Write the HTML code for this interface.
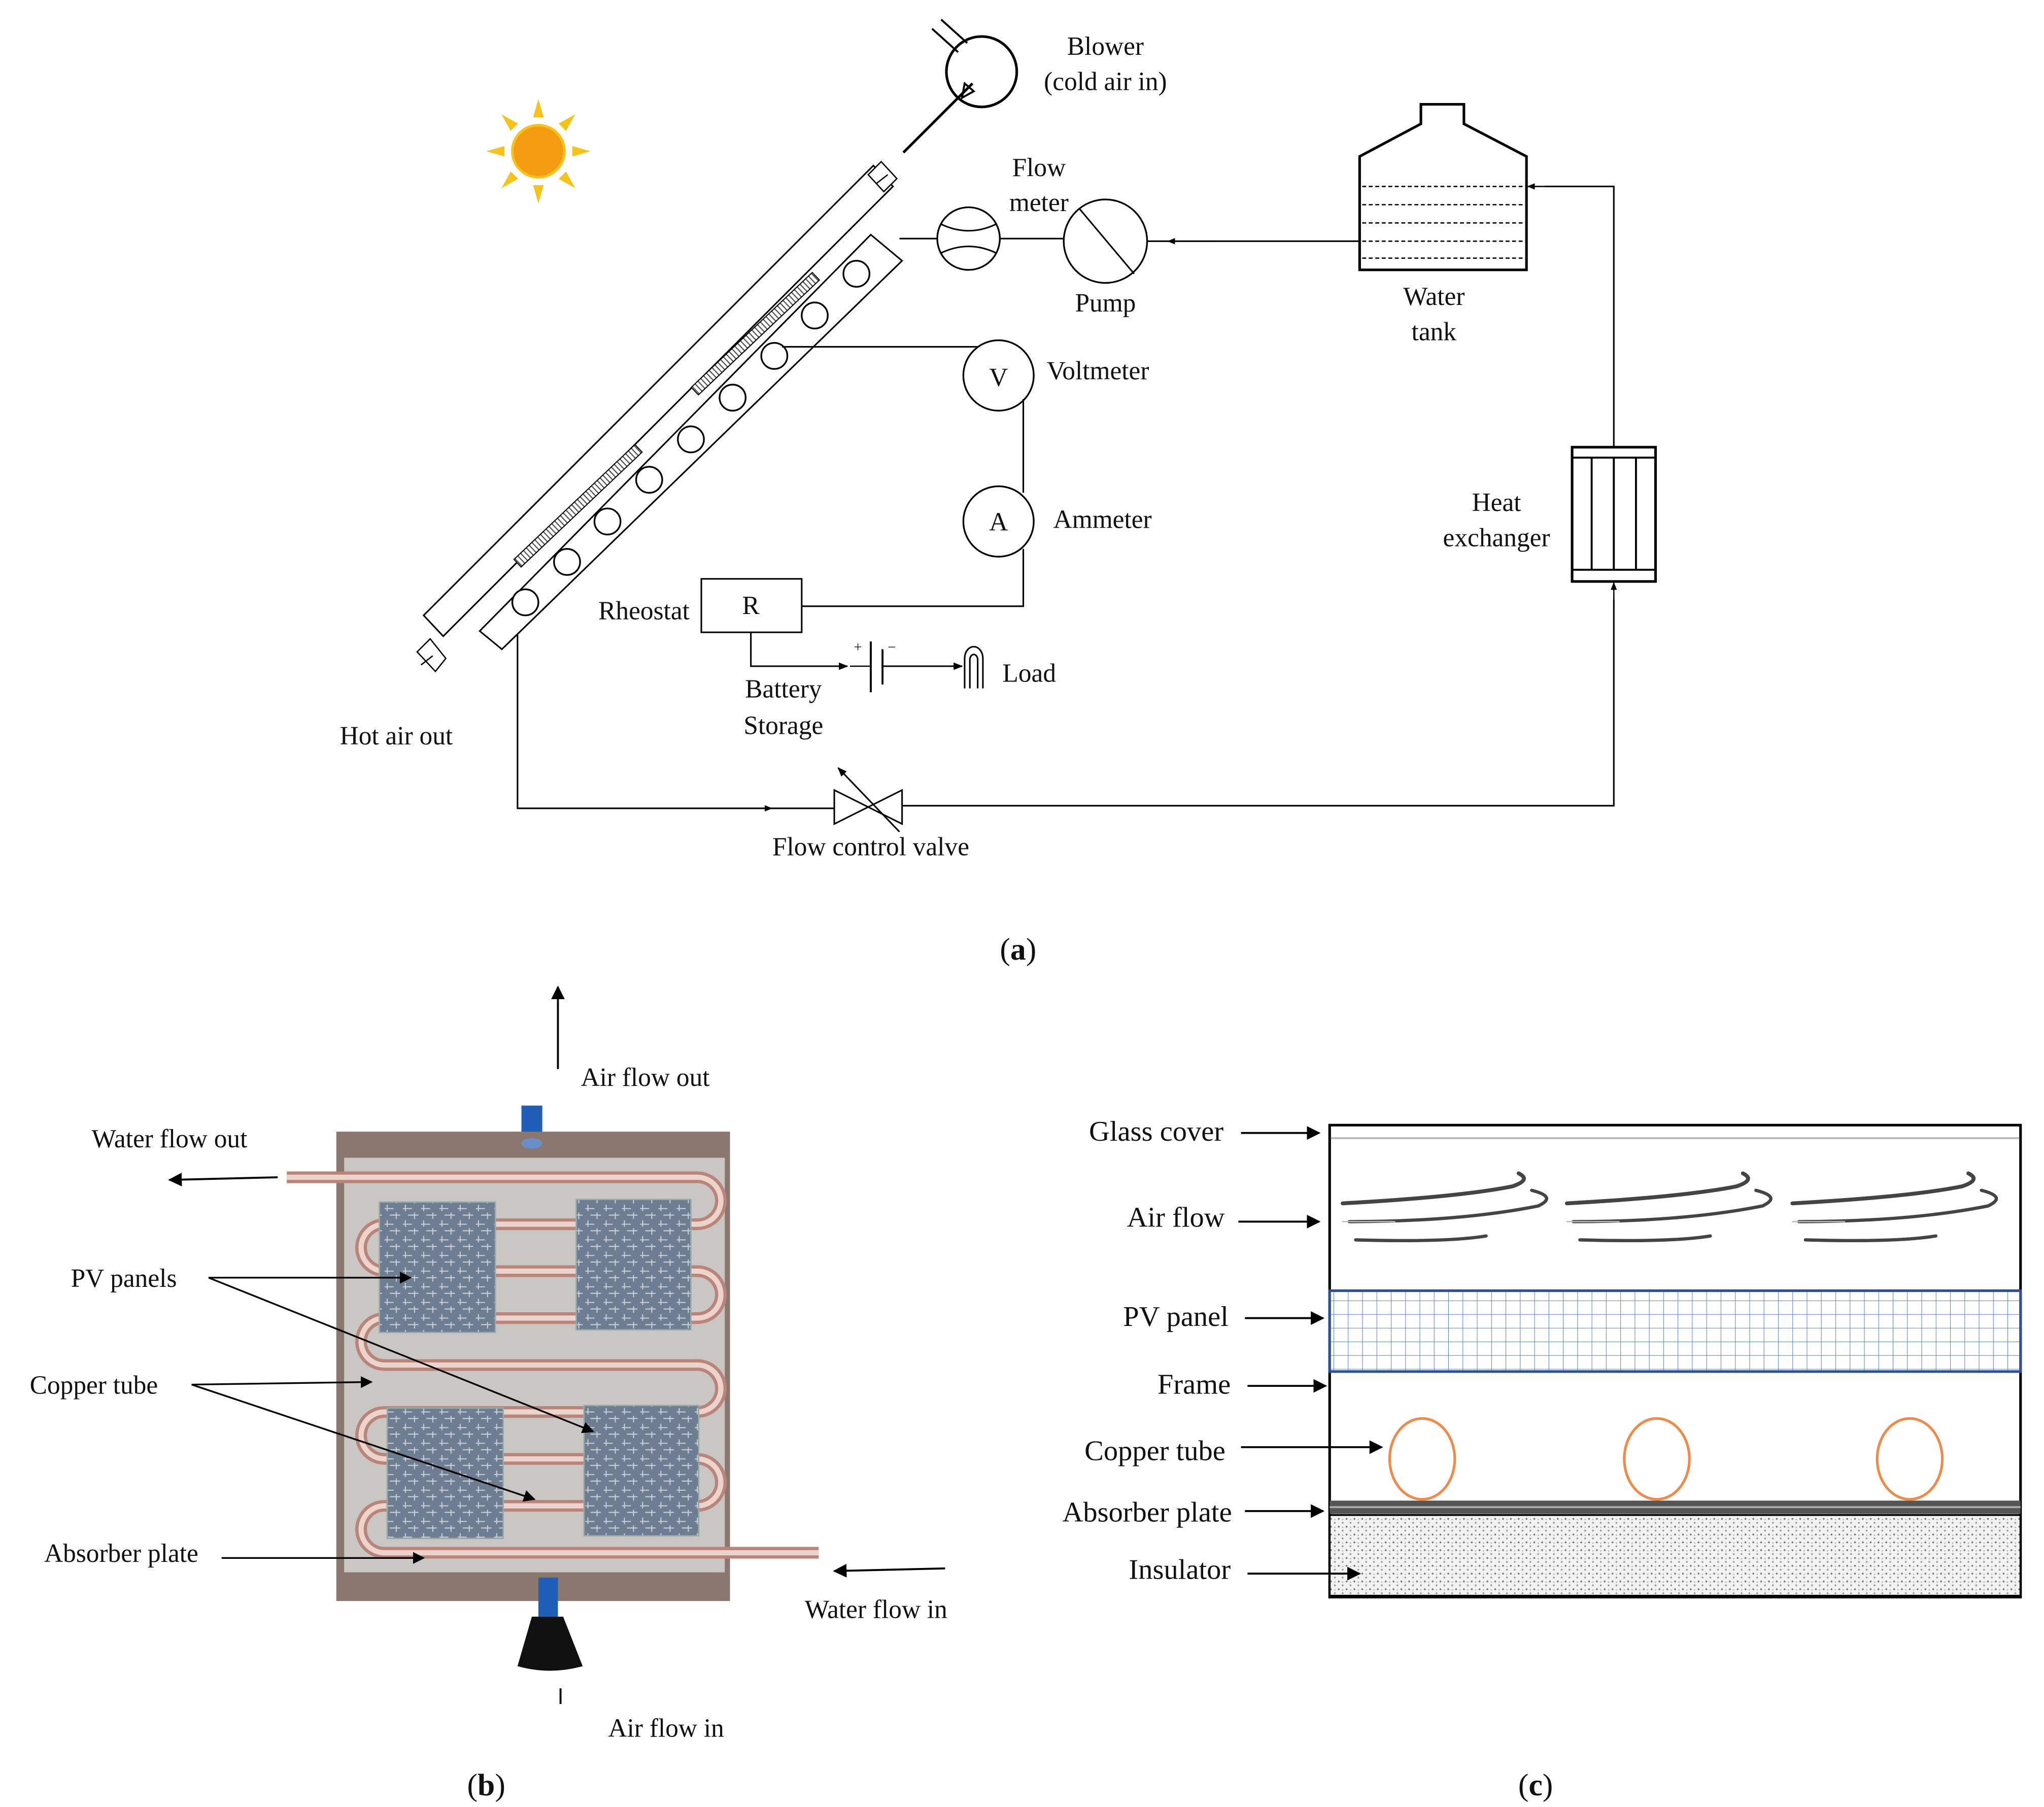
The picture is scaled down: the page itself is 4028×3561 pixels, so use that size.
<!DOCTYPE html>
<html><head><meta charset="utf-8">
<style>
html,body{margin:0;padding:0;background:#fff;}
svg{display:block;}
text{font-family:"Liberation Serif",serif;font-size:20px;fill:#111;}
.c{font-family:"Liberation Sans Narrow","Liberation Serif",serif;font-size:22px;}
</style></head><body>
<svg width="4028" height="3561" viewBox="0 0 1568 1386" preserveAspectRatio="none" xmlns="http://www.w3.org/2000/svg">
<defs>
<marker id="ar" viewBox="0 0 10 10" refX="9" refY="5" markerWidth="6" markerHeight="6" orient="auto"><path d="M0,1 L10,5 L0,9z" fill="#000"/></marker>
<marker id="ab" viewBox="0 0 10 10" refX="9" refY="5" markerWidth="7" markerHeight="7" orient="auto"><path d="M0,0 L10,5 L0,10z" fill="#000"/></marker>
<pattern id="grid" width="11" height="10.5" patternUnits="userSpaceOnUse"><rect width="11" height="10.5" fill="#fff"/><path d="M0,0 H11 M0,0 V10.5" stroke="#5b7fc8" stroke-width="0.8"/></pattern>
<pattern id="dots" width="6" height="6" patternUnits="userSpaceOnUse"><rect width="6" height="6" fill="#f2f2f2"/><circle cx="1" cy="1" r="0.7" fill="#777"/><circle cx="4" cy="4" r="0.7" fill="#999"/><circle cx="4" cy="1.5" r="0.5" fill="#aaa"/></pattern>
<pattern id="hatch" width="3" height="6" patternUnits="userSpaceOnUse"><rect width="3" height="6" fill="#fff"/><path d="M1,0 V6" stroke="#444" stroke-width="0.8"/></pattern>
<pattern id="pv" width="14" height="12" patternUnits="userSpaceOnUse"><rect width="14" height="12" fill="#6f7d92"/><path d="M1,3 H8 M5,8 H13 M3,0 V5 M10,6 V11" stroke="#c9d0dc" stroke-width="0.8"/></pattern>
</defs>

<g transform="translate(413,116)">
<g fill="#f7c31a">
<polygon points="-4,-26 4,-26 0,-40"/><polygon points="-4,26 4,26 0,40"/>
<polygon points="-26,-4 -26,4 -40,0"/><polygon points="26,-4 26,4 40,0"/>
<g transform="rotate(45)"><polygon points="-4,-26 4,-26 0,-40"/><polygon points="-4,26 4,26 0,40"/><polygon points="-26,-4 -26,4 -40,0"/><polygon points="26,-4 26,4 40,0"/></g>
</g>
<circle r="20" fill="#f39c12"/><circle r="20" fill="none" stroke="#f7c31a" stroke-width="2"/>
</g>
<circle cx="753" cy="55" r="27" fill="#fff" stroke="#000" stroke-width="2"/>
<line x1="715" y1="22" x2="735" y2="40" stroke="#000" stroke-width="1.5"/>
<line x1="722" y1="15" x2="742" y2="33" stroke="#000" stroke-width="1.5"/>
<line x1="746" y1="64" x2="693" y2="117" stroke="#000" stroke-width="2"/>
<path d="M738,75 L740,64 L747,70z" fill="none" stroke="#000" stroke-width="1.5"/>
<text x="848" y="42" text-anchor="middle">Blower</text>
<text x="848" y="69" text-anchor="middle">(cold air in)</text>

<polygon points="325,472 670,127 685,143 340,488" fill="#fff" stroke="#000" stroke-width="1.2"/>
<polygon points="320,500 330,490 342,505 334,515" fill="#fff" stroke="#000" stroke-width="1"/>
<polygon points="666,134 676,124 688,137 678,147" fill="#fff" stroke="#000" stroke-width="1"/>
<line x1="323" y1="510" x2="332" y2="503" stroke="#000"/>
<line x1="672" y1="141" x2="681" y2="134" stroke="#000"/>
<polygon points="368,484 668,180 692,200 385,498" fill="#fff" stroke="#000" stroke-width="1.2"/>
<g transform="translate(397,432) rotate(-43.5)"><rect x="0" y="-4" width="128" height="8" fill="url(#hatch)" stroke="#000" stroke-width="0.8"/></g>
<g transform="translate(533,300) rotate(-43.5)"><rect x="0" y="-4" width="128" height="8" fill="url(#hatch)" stroke="#000" stroke-width="0.8"/></g>
<g fill="#fff" stroke="#000" stroke-width="1.3">
<circle cx="403" cy="462" r="10"/><circle cx="435" cy="431" r="10"/><circle cx="466" cy="400" r="10"/><circle cx="498" cy="368" r="10"/><circle cx="530" cy="337" r="10"/><circle cx="562" cy="305" r="10"/><circle cx="594" cy="273" r="10"/><circle cx="625" cy="242" r="10"/><circle cx="657" cy="210" r="10"/>
</g>
<text x="304" y="571" text-anchor="middle">Hot air out</text>

<line x1="690" y1="183" x2="719" y2="183" stroke="#000" stroke-width="1.2"/>
<circle cx="743" cy="183" r="24" fill="#fff" stroke="#000" stroke-width="1.3"/>
<path d="M722,172 Q743,182 764,172 M722,194 Q743,184 764,194" fill="none" stroke="#000" stroke-width="1.2"/>
<line x1="767" y1="183" x2="816" y2="183" stroke="#000" stroke-width="1.2"/>
<circle cx="848" cy="185" r="32" fill="#fff" stroke="#000" stroke-width="1.3"/>
<line x1="828" y1="160" x2="870" y2="210" stroke="#000" stroke-width="1.2"/>
<line x1="880" y1="185" x2="1043" y2="185" stroke="#000" stroke-width="1.2"/>
<line x1="930" y1="185" x2="896" y2="185" stroke="#000" marker-end="url(#ar)"/>
<text x="797" y="135" text-anchor="middle">Flow</text>
<text x="797" y="162" text-anchor="middle">meter</text>
<text x="848" y="239" text-anchor="middle">Pump</text>

<polygon points="1043,120 1090,95 1090,80 1123,80 1123,95 1171,120 1171,207 1043,207" fill="#fff" stroke="#000" stroke-width="2"/>
<g stroke="#000" stroke-dasharray="3,2" stroke-width="1">
<line x1="1045" y1="143" x2="1169" y2="143"/><line x1="1045" y1="157" x2="1169" y2="157"/><line x1="1045" y1="171" x2="1169" y2="171"/><line x1="1045" y1="185" x2="1169" y2="185"/><line x1="1045" y1="198" x2="1169" y2="198"/>
</g>
<text x="1100" y="234" text-anchor="middle">Water</text>
<text x="1100" y="261" text-anchor="middle">tank</text>
<polyline points="1238,343 1238,143 1185,143" fill="none" stroke="#000" stroke-width="1.2"/>
<line x1="1185" y1="143" x2="1172" y2="143" stroke="#000" marker-end="url(#ar)"/>

<rect x="1206" y="343" width="64" height="103" fill="#fff" stroke="#000" stroke-width="2"/>
<g stroke="#000" stroke-width="1.5">
<line x1="1206" y1="351" x2="1270" y2="351"/><line x1="1206" y1="437" x2="1270" y2="437"/>
<line x1="1221" y1="351" x2="1221" y2="437"/><line x1="1238" y1="351" x2="1238" y2="437"/><line x1="1255" y1="351" x2="1255" y2="437"/>
</g>
<text x="1148" y="392" text-anchor="middle">Heat</text>
<text x="1148" y="419" text-anchor="middle">exchanger</text>
<polyline points="1238,460 1238,618 692,618" fill="none" stroke="#000" stroke-width="1.2"/>
<line x1="1238" y1="462" x2="1238" y2="447" stroke="#000" marker-end="url(#ar)"/>

<polygon points="640,606 692,632 692,606 640,632" fill="#fff" stroke="#000" stroke-width="1.2"/>
<line x1="690" y1="638" x2="643" y2="589" stroke="#000" stroke-width="1.2" marker-end="url(#ar)"/>
<polyline points="397,487 397,620 640,620" fill="none" stroke="#000" stroke-width="1.2"/>
<line x1="570" y1="620" x2="592" y2="620" stroke="#000" marker-end="url(#ar)"/>
<text x="668" y="656" text-anchor="middle">Flow control valve</text>

<line x1="600" y1="266" x2="766" y2="266" stroke="#000" stroke-width="1.2"/>
<circle cx="766" cy="288" r="27" fill="#fff" stroke="#000" stroke-width="1.3"/>
<text x="766" y="296" text-anchor="middle">V</text>
<text x="803" y="291">Voltmeter</text>
<line x1="785" y1="306" x2="785" y2="378" stroke="#000" stroke-width="1.2"/>
<circle cx="766" cy="400" r="27" fill="#fff" stroke="#000" stroke-width="1.3"/>
<text x="766" y="407" text-anchor="middle">A</text>
<text x="808" y="405">Ammeter</text>
<polyline points="785,421 785,465 615,465" fill="none" stroke="#000" stroke-width="1.2"/>
<rect x="538" y="444" width="77" height="41" fill="#fff" stroke="#000" stroke-width="1.2"/>
<text x="576" y="471" text-anchor="middle">R</text>
<text x="494" y="475" text-anchor="middle">Rheostat</text>
<polyline points="576,485 576,511 650,511" fill="none" stroke="#000" stroke-width="1.2" marker-end="url(#ar)"/>
<line x1="668" y1="492" x2="668" y2="531" stroke="#000" stroke-width="1.5"/>
<line x1="677" y1="498" x2="677" y2="525" stroke="#000" stroke-width="1.5"/>
<text x="655" y="500" style="font-size:11px">+</text><text x="681" y="500" style="font-size:11px">−</text>
<line x1="652" y1="511" x2="668" y2="511" stroke="#000"/>
<line x1="677" y1="511" x2="738" y2="511" stroke="#000" stroke-width="1.2" marker-end="url(#ar)"/>
<path d="M740,528 V505 A7,9 0 0 1 754,505 V528 M744,528 V506 A3,4 0 0 1 750,506 V528" fill="none" stroke="#000" stroke-width="1.2"/>
<text x="769" y="523">Load</text>
<text x="601" y="535" text-anchor="middle">Battery</text>
<text x="601" y="563" text-anchor="middle">Storage</text>
<text x="781" y="736" text-anchor="middle" style="font-size:24px">(<tspan font-weight="bold">a</tspan>)</text>

<line x1="428" y1="820" x2="428" y2="757" stroke="#000" stroke-width="1.5" marker-end="url(#ab)"/>
<text x="495" y="833" text-anchor="middle">Air flow out</text>
<rect x="400" y="848" width="16" height="24" fill="#1f5fb8"/>
<rect x="258" y="868" width="302" height="360" fill="#8a7770"/>
<rect x="264" y="888" width="292" height="318" fill="#c9c6c4"/>
<ellipse cx="408" cy="877" rx="8" ry="4" fill="#6a8fc8"/>
<path d="M220,903 H535 a18 18 0 0 1 0 36 H295 a18 18 0 0 0 0 36 H535 a18 18 0 0 1 0 36 H295 a18 18 0 0 0 0 36 H535 a18 18 0 0 1 0 36 H295 a18 18 0 0 0 0 36 H535 a18 18 0 0 1 0 36 H295 a18 18 0 0 0 0 36 H628" fill="none" stroke="#b9857a" stroke-width="9"/>
<path d="M220,903 H535 a18 18 0 0 1 0 36 H295 a18 18 0 0 0 0 36 H535 a18 18 0 0 1 0 36 H295 a18 18 0 0 0 0 36 H535 a18 18 0 0 1 0 36 H295 a18 18 0 0 0 0 36 H535 a18 18 0 0 1 0 36 H295 a18 18 0 0 0 0 36 H628" fill="none" stroke="#ecd3cc" stroke-width="4"/>
<rect x="291" y="922" width="89" height="100" fill="url(#pv)" stroke="#9aa" stroke-width="1"/>
<rect x="442" y="920" width="88" height="100" fill="url(#pv)" stroke="#9aa" stroke-width="1"/>
<rect x="297" y="1080" width="89" height="100" fill="url(#pv)" stroke="#9aa" stroke-width="1"/>
<rect x="448" y="1078" width="88" height="100" fill="url(#pv)" stroke="#9aa" stroke-width="1"/>
<rect x="413" y="1210" width="15" height="30" fill="#1f5fb8"/>
<path d="M408,1240 H432 L447,1278 Q422,1285 397,1278z" fill="#111"/>
<line x1="430" y1="1295" x2="430" y2="1307" stroke="#000" stroke-width="1.5"/>
<text x="511" y="1332" text-anchor="middle">Air flow in</text>
<line x1="213" y1="903" x2="130" y2="905" stroke="#000" stroke-width="1.5" marker-end="url(#ab)"/>
<text x="130" y="880" text-anchor="middle">Water flow out</text>
<line x1="725" y1="1203" x2="640" y2="1205" stroke="#000" stroke-width="1.5" marker-end="url(#ab)"/>
<text x="672" y="1241" text-anchor="middle">Water flow in</text>
<text x="95" y="987" text-anchor="middle">PV panels</text>
<line x1="160" y1="980" x2="315" y2="980" stroke="#000" stroke-width="1.3" marker-end="url(#ab)"/>
<line x1="160" y1="980" x2="455" y2="1098" stroke="#000" stroke-width="1.3" marker-end="url(#ab)"/>
<text x="72" y="1069" text-anchor="middle">Copper tube</text>
<line x1="147" y1="1062" x2="285" y2="1060" stroke="#000" stroke-width="1.3" marker-end="url(#ab)"/>
<line x1="147" y1="1062" x2="410" y2="1150" stroke="#000" stroke-width="1.3" marker-end="url(#ab)"/>
<text x="93" y="1198" text-anchor="middle">Absorber plate</text>
<line x1="170" y1="1195" x2="325" y2="1195" stroke="#000" stroke-width="1.3" marker-end="url(#ab)"/>
<text x="373" y="1377" text-anchor="middle" style="font-size:24px">(<tspan font-weight="bold">b</tspan>)</text>

<rect x="1020" y="863" width="530" height="362" fill="#fff" stroke="#000" stroke-width="2"/>
<line x1="1021" y1="873" x2="1549" y2="873" stroke="#bbb" stroke-width="1.5"/>
<g fill="none" stroke="#444" stroke-linecap="round">
<g id="sw">
<path d="M1030,923 Q1120,918 1160,910 Q1175,905 1165,900" stroke-width="3"/>
<path d="M1035,937 Q1120,937 1180,925 Q1195,918 1175,913" stroke-width="2.5"/>
<path d="M1040,951 Q1110,953 1140,948" stroke-width="2.5"/>
<path d="M1030,937 H1070" stroke-width="1" stroke="#bbb"/>
</g>
<use href="#sw" x="172"/>
<use href="#sw" x="345"/>
</g>
<rect x="1020" y="990" width="530" height="62" fill="url(#grid)" stroke="#2c4f9c" stroke-width="2"/>
<g fill="none" stroke="#f08a4b" stroke-width="2">
<ellipse cx="1091" cy="1119" rx="25" ry="31"/><ellipse cx="1271" cy="1119" rx="25" ry="31"/><ellipse cx="1465" cy="1119" rx="25" ry="31"/>
</g>
<rect x="1020" y="1151" width="530" height="10" fill="#555"/>
<line x1="1020" y1="1156" x2="1550" y2="1156" stroke="#aaa" stroke-width="1.5"/>
<rect x="1020" y="1162" width="530" height="62" fill="url(#dots)" stroke="#000" stroke-width="1.5"/>
<text class="c" x="887" y="875" text-anchor="middle">Glass cover</text>
<line x1="952" y1="869" x2="1012" y2="869" stroke="#000" stroke-width="1.5" marker-end="url(#ab)"/>
<text class="c" x="902" y="941" text-anchor="middle">Air flow</text>
<line x1="950" y1="937" x2="1012" y2="937" stroke="#000" stroke-width="1.5" marker-end="url(#ab)"/>
<text class="c" x="902" y="1017" text-anchor="middle">PV panel</text>
<line x1="955" y1="1011" x2="1015" y2="1011" stroke="#000" stroke-width="1.5" marker-end="url(#ab)"/>
<text class="c" x="916" y="1069" text-anchor="middle">Frame</text>
<line x1="957" y1="1063" x2="1017" y2="1063" stroke="#000" stroke-width="1.5" marker-end="url(#ab)"/>
<text class="c" x="886" y="1120" text-anchor="middle">Copper tube</text>
<line x1="952" y1="1110" x2="1060" y2="1110" stroke="#000" stroke-width="1.5" marker-end="url(#ab)"/>
<text class="c" x="880" y="1167" text-anchor="middle">Absorber plate</text>
<line x1="955" y1="1159" x2="1015" y2="1159" stroke="#000" stroke-width="1.5" marker-end="url(#ab)"/>
<text class="c" x="905" y="1211" text-anchor="middle">Insulator</text>
<line x1="957" y1="1207" x2="1043" y2="1207" stroke="#000" stroke-width="1.5" marker-end="url(#ab)"/>
<text x="1178" y="1377" text-anchor="middle" style="font-size:24px">(<tspan font-weight="bold">c</tspan>)</text>
</svg>
</body></html>
